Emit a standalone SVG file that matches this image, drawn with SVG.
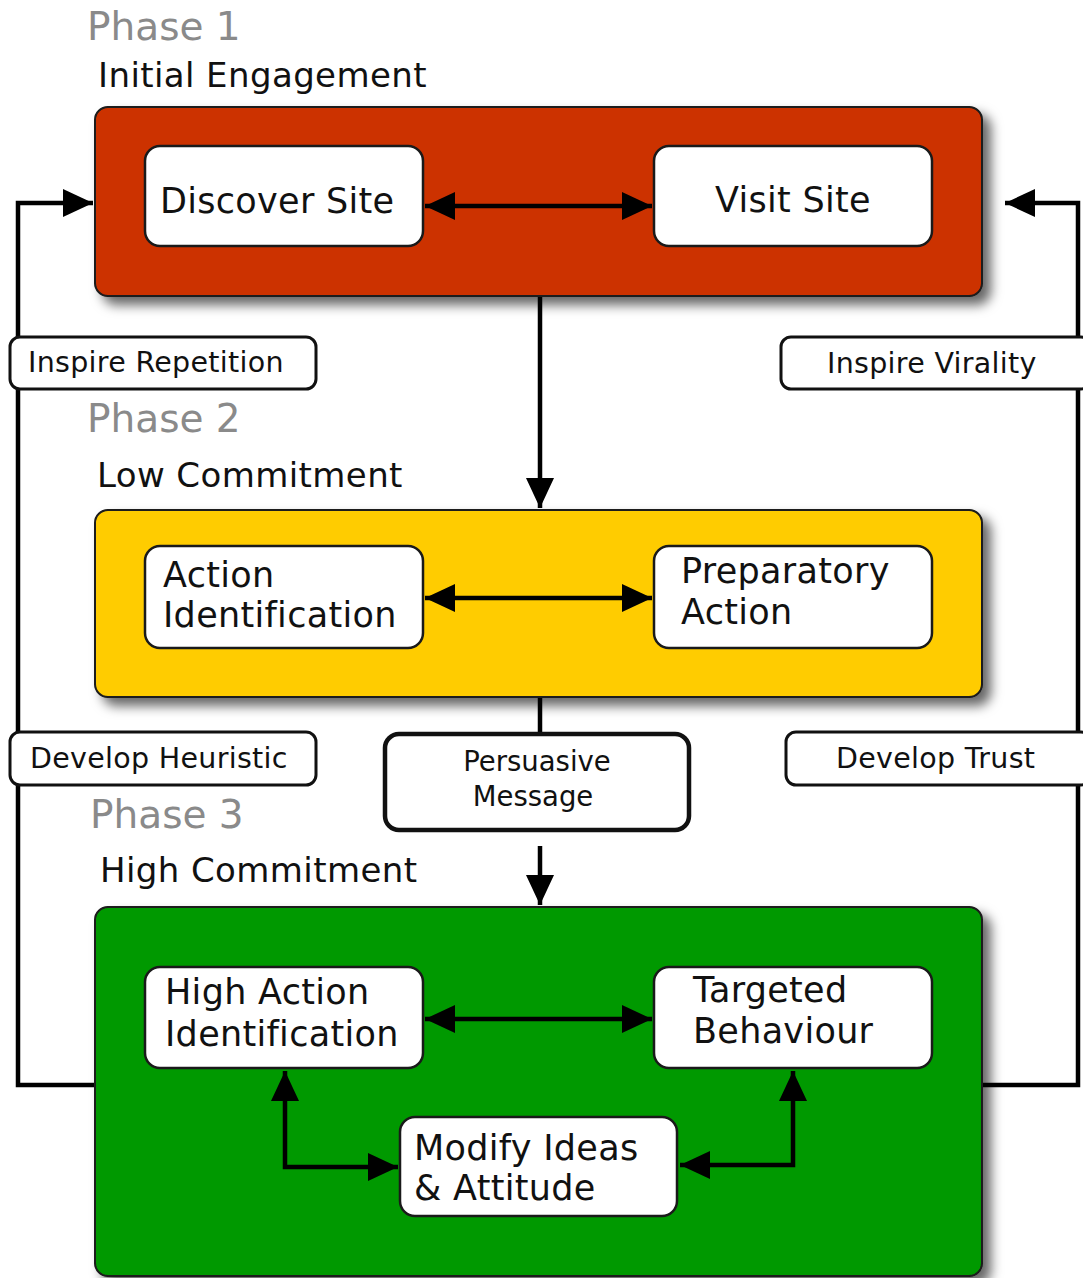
<svg xmlns="http://www.w3.org/2000/svg" width="1083" height="1278" viewBox="0 0 1083 1278">
<defs>
<filter id="sh" x="-10%" y="-10%" width="125%" height="130%">
<feDropShadow dx="8" dy="8" stdDeviation="6" flood-color="#000" flood-opacity="0.6"/>
</filter>
<marker id="ah" viewBox="0 0 30 28" refX="30" refY="14" markerWidth="30" markerHeight="28" markerUnits="userSpaceOnUse" orient="auto-start-reverse">
<path d="M0,0 L30,14 L0,28 z" fill="#000"/>
</marker>
<style>
text{font-family:"DejaVu Sans","Verdana",sans-serif;fill:#111}
.ph{font-size:39px;fill:#8a8a8a}
.sub{font-size:34px;letter-spacing:0.4px}
.bt{font-size:35px;letter-spacing:0.3px}
.lt{font-size:28.5px;letter-spacing:0.3px}
.pm{font-size:27.5px}
.panel{stroke:#1a1a1a;stroke-width:2}
.inner{fill:#fff;stroke:#1a1a1a;stroke-width:2.5}
.lbl{fill:#fff;stroke:#111;stroke-width:3}
.cn{fill:none;stroke:#000;stroke-width:4.5}
</style>
</defs>
<rect width="1083" height="1278" fill="#fff"/>

<g id="connectors">
<path class="cn" d="M95,1085 H18 V203 H93" marker-end="url(#ah)"/>
<path class="cn" d="M982,1085 H1078 V203 H1005" marker-end="url(#ah)"/>
<path class="cn" d="M540,296 V508" marker-end="url(#ah)"/>
<path class="cn" d="M540,697 V735"/>
<path class="cn" d="M540,846 V905" marker-end="url(#ah)"/>
</g>

<g id="phase1">
<text class="ph" x="87" y="40">Phase 1</text>
<text class="sub" x="98" y="87">Initial Engagement</text>
<rect class="panel" x="95" y="107" width="887" height="189" rx="13" fill="#cc3300" filter="url(#sh)"/>
</g>
<g id="phase2">
<text class="ph" x="87" y="432">Phase 2</text>
<text class="sub" x="97" y="487">Low Commitment</text>
<rect class="panel" x="95" y="510" width="887" height="187" rx="13" fill="#ffcc00" filter="url(#sh)"/>
</g>
<g id="phase3">
<text class="ph" x="90" y="828">Phase 3</text>
<text class="sub" x="100" y="882">High Commitment</text>
<rect class="panel" x="95" y="907" width="887" height="369" rx="13" fill="#009900" filter="url(#sh)"/>
</g>

<g id="inner-connectors">
<path class="cn" d="M425,206 H652" marker-start="url(#ah)" marker-end="url(#ah)"/>
<path class="cn" d="M425,598 H652" marker-start="url(#ah)" marker-end="url(#ah)"/>
<path class="cn" d="M425,1019 H652" marker-start="url(#ah)" marker-end="url(#ah)"/>
<path class="cn" d="M285,1071 V1167 H398" marker-start="url(#ah)" marker-end="url(#ah)"/>
<path class="cn" d="M793,1071 V1165 H680" marker-start="url(#ah)" marker-end="url(#ah)"/>
</g>

<g id="discover-site">
<rect class="inner" x="145" y="146" width="278" height="100" rx="15"/>
<text class="bt" x="160" y="213">Discover Site</text>
</g>
<g id="visit-site">
<rect class="inner" x="654" y="146" width="278" height="100" rx="15"/>
<text class="bt" x="715" y="212">Visit Site</text>
</g>
<g id="action-identification">
<rect class="inner" x="145" y="546" width="278" height="102" rx="15"/>
<text class="bt" x="163" y="587">Action</text>
<text class="bt" x="163" y="627">Identification</text>
</g>
<g id="preparatory-action">
<rect class="inner" x="654" y="546" width="278" height="102" rx="15"/>
<text class="bt" x="681" y="583">Preparatory</text>
<text class="bt" x="681" y="624">Action</text>
</g>
<g id="high-action-identification">
<rect class="inner" x="145" y="967" width="278" height="101" rx="15"/>
<text class="bt" x="165" y="1004">High Action</text>
<text class="bt" x="165" y="1046">Identification</text>
</g>
<g id="targeted-behaviour">
<rect class="inner" x="654" y="967" width="278" height="101" rx="15"/>
<text class="bt" x="693" y="1002">Targeted</text>
<text class="bt" x="693" y="1043">Behaviour</text>
</g>
<g id="modify-ideas">
<rect class="inner" x="400" y="1117" width="277" height="99" rx="15"/>
<text class="bt" x="414" y="1160">Modify Ideas</text>
<text class="bt" x="414" y="1200">&amp; Attitude</text>
</g>

<g id="inspire-repetition">
<rect class="lbl" x="10" y="337" width="306" height="52" rx="10"/>
<text class="lt" x="28" y="372">Inspire Repetition</text>
</g>
<g id="inspire-virality">
<rect class="lbl" x="781" y="337" width="310" height="52" rx="10"/>
<text class="lt" x="827" y="373">Inspire Virality</text>
</g>
<g id="develop-heuristic">
<rect class="lbl" x="10" y="732" width="306" height="53" rx="10"/>
<text class="lt" x="30" y="768">Develop Heuristic</text>
</g>
<g id="develop-trust">
<rect class="lbl" x="786" y="732" width="305" height="53" rx="10"/>
<text class="lt" x="836" y="768">Develop Trust</text>
</g>
<g id="persuasive-message">
<rect class="lbl" x="385" y="734" width="304" height="96" rx="14" style="stroke-width:4.5"/>
<text class="pm" x="537" y="771" text-anchor="middle">Persuasive</text>
<text class="pm" x="533" y="806" text-anchor="middle">Message</text>
</g>
</svg>
